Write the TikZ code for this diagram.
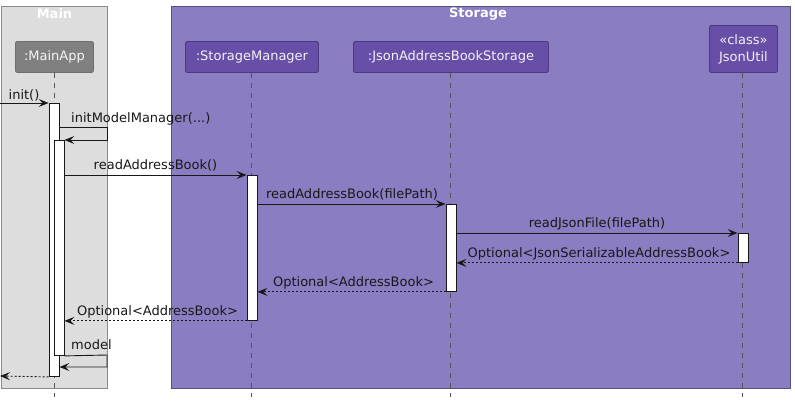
\documentclass[tikz,border=0pt]{standalone}
\usepackage{fontspec}
\setmainfont{DejaVu Sans}
\usetikzlibrary{arrows.meta}
\definecolor{mainbg}{HTML}{DDDDDD}
\definecolor{mainbd}{HTML}{8A8A8A}
\definecolor{stbg}{HTML}{8B7DC1}
\definecolor{stbd}{HTML}{5B5080}
\definecolor{partbg}{HTML}{674EA7}
\definecolor{partbd}{HTML}{4A3A80}
\definecolor{grpart}{HTML}{808080}
\definecolor{grbd}{HTML}{6E6E6E}
\definecolor{ink}{HTML}{181818}
\definecolor{lifec}{HTML}{555555}
\tikzset{
  x=1pt,y=-1pt,
  every node/.style={font=\fontsize{13}{15}\selectfont, inner sep=0pt},
  part/.style={draw=partbd, fill=partbg, rounded corners=2pt, text=white!92!partbg, line width=0.9pt, align=center},
  gpart/.style={draw=grbd, fill=grpart, rounded corners=2pt, text=white!92!grpart, line width=0.9pt},
  grp/.style={line width=0.9pt},
  grptitle/.style={text=white, font=\fontsize{13}{15}\selectfont\bfseries},
  life/.style={draw=lifec, dash pattern=on 5pt off 5pt, line width=0.7pt},
  act/.style={draw=ink, fill=white, line width=0.9pt, minimum width=10pt, inner sep=0pt},
  msg/.style={draw=ink, line width=0.9pt, -{Stealth[length=10pt,width=8pt,inset=4pt]}},
  ret/.style={msg, densely dashed, dash pattern=on 2pt off 2pt},
  lbl/.style={text=ink, anchor=base},
}
\begin{document}
\begin{tikzpicture}
\useasboundingbox (0,0) rectangle (795,400);
% groups
\node[grp, draw=mainbd, fill=mainbg, minimum width=106pt, minimum height=382pt, anchor=north west] (gmain) at (1,6) {};
\node[grp, draw=stbd, fill=stbg, minimum width=619pt, minimum height=382pt, anchor=north west] (gstor) at (171,6) {};
\node[grptitle] (tmain) at (54.5,14) {Main};
\node[grptitle] (tstor) at (478,14) {Storage};
% participants
\node[gpart, minimum width=78pt, minimum height=31pt, anchor=north west] (pmain) at (15,41) {};
\node (tpm) at (pmain.center) [text=white!92!grpart] {:MainApp};
\node[part, minimum width=133pt, minimum height=31pt, anchor=north west] (psm) at (185,41) {};
\node (tsm) at (psm.center) [text=white!92!partbg] {:StorageManager};
\node[part, minimum width=195pt, minimum height=31pt, anchor=north west] (pjs) at (353,41) {};
\node (tjs) at (pjs.center) [text=white!92!partbg] {:JsonAddressBookStorage};
\node[part, minimum width=68pt, minimum height=47pt, anchor=north west] (pju) at (709,25) {};
\node (tju) at (pju.center) [text=white!92!partbg, align=center, font=\fontsize{13}{17}\selectfont] {«class»\\JsonUtil};
% lifeline ends
\coordinate (emain) at (54,397);
\coordinate (esm) at (251,397);
\coordinate (ejs) at (450,397);
\coordinate (eju) at (742,397);
\draw[life] (pmain.south -| emain) -- (emain);
\draw[life] (psm.south -| esm) -- (esm);
\draw[life] (pjs.south -| ejs) -- (ejs);
\draw[life] (pju.south -| eju) -- (eju);
% activation bars
\node[act, minimum height=273pt, anchor=north] (amain1) at (54,103) {};
\node[act, minimum height=215pt, anchor=north] (amain2) at (59,140) {};
\node[act, minimum height=145pt, anchor=north] (asm) at (252,175) {};
\node[act, minimum height=87pt, anchor=north] (ajs) at (451,204) {};
\node[act, minimum height=29pt, anchor=north] (aju) at (743,233) {};
% messages
\coordinate (start) at (0,103);
\coordinate (stop) at (0,376);
\draw[msg] (start) -- (amain1.north west);
\node[lbl] (l1) at (24,99) {init()};
\coordinate (self1) at (107,127);
\draw[msg] (amain1.east |- self1) -- (self1) |- (amain2.north east);
\node[lbl, anchor=base west] (l2) at (71,122) {initModelManager(...)};
\draw[msg] (amain2.east |- asm.north) -- (asm.north west);
\node[lbl] (l3) at (155.5,169) {readAddressBook()};
\draw[msg] (asm.east |- ajs.north) -- (ajs.north west);
\node[lbl] (l4) at (352,198) {readAddressBook(filePath)};
\draw[msg] (ajs.east |- aju.north) -- (aju.north west);
\node[lbl] (l5) at (597,227) {readJsonFile(filePath)};
\draw[ret] (aju.south west) -- (ajs.east |- aju.south);
\node[lbl] (l6) at (599,257) {Optional<JsonSerializableAddressBook>};
\draw[ret] (ajs.south west) -- (asm.east |- ajs.south);
\node[lbl] (l7) at (353.5,286) {Optional<AddressBook>};
\draw[ret] (asm.south west) -- (amain2.east |- asm.south);
\node[lbl] (l8) at (157.5,315) {Optional<AddressBook>};
\coordinate (self2) at (107,355);
\draw[msg] (amain2.south east) -- (self2) |- (amain1.east |- 0,367);
\node[lbl, anchor=base west] (l9) at (71,349) {model};
\draw[ret] (amain1.south west) -- (stop);
\end{tikzpicture}
\end{document}
